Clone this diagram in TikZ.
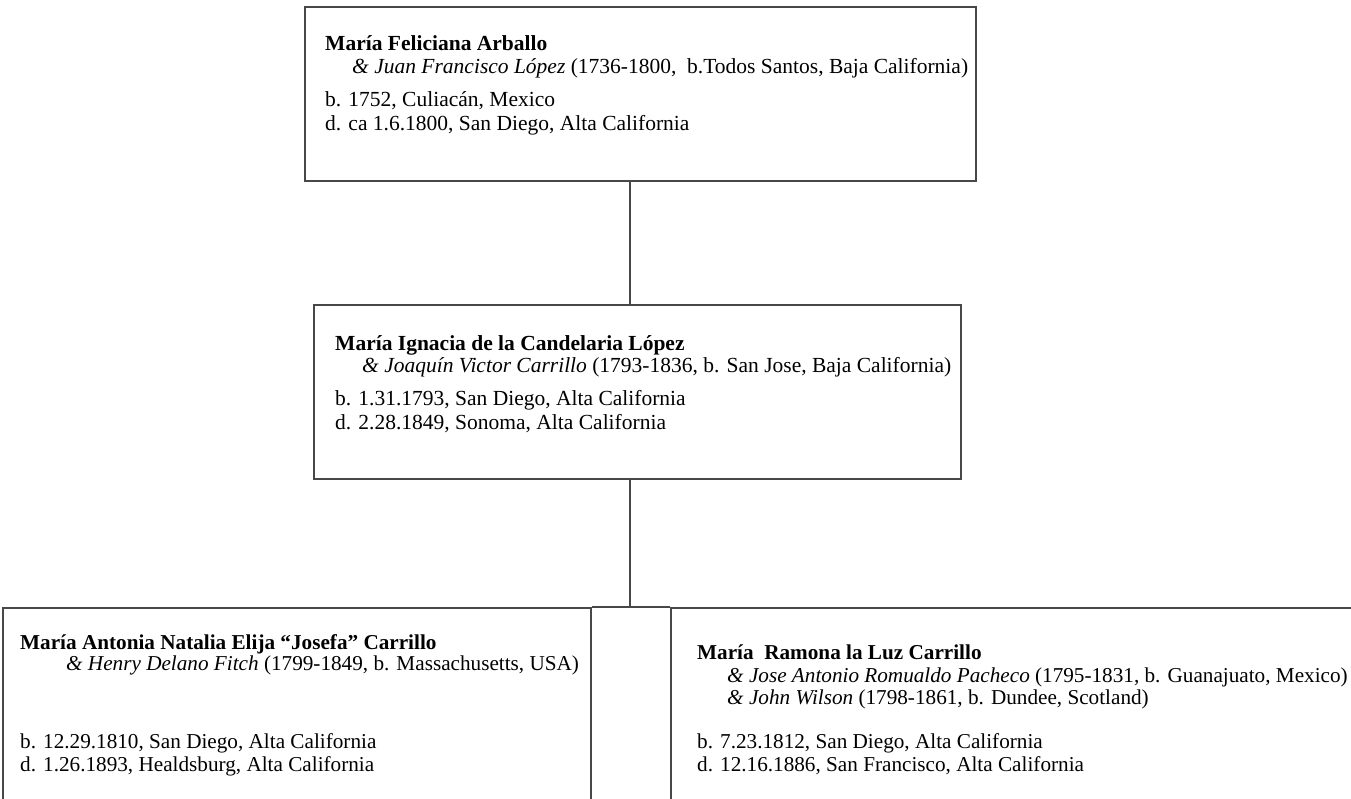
\documentclass[tikz,border=0pt]{standalone}
\usepackage{fontspec}
\setmainfont{Liberation Serif}
\definecolor{edge}{RGB}{72,72,72}
\begin{document}
\begin{tikzpicture}[x=1pt,y=-1pt,
  box/.style={draw=edge, line width=1.7pt, rectangle, inner sep=0pt, anchor=north west},
  conn/.style={draw=edge, line width=1.7pt},
  ln/.style={anchor=base west, inner sep=0pt, font=\fontsize{21.5}{24}\selectfont},
  lnb/.style={anchor=base west, inner sep=0pt, font=\fontsize{21.2}{23}\selectfont}]
\useasboundingbox (0,0) rectangle (1351,799);
\clip (0,0) rectangle (1351,799);
\fill[white] (0,0) rectangle (1351,799);
\coordinate (spine) at (630,0);
% boxes
\node[box, minimum width=671pt, minimum height=174pt] (top) at (304,6) {};
\node[box, minimum width=647pt, minimum height=174pt] (mid) at (313,304) {};
\node[box, minimum width=588pt, minimum height=300pt] (left) at (2,607) {};
\node[box, minimum width=800pt, minimum height=300pt] (right) at (670,607) {};
% connectors
\draw[conn] (top.south -| spine) -- (mid.north -| spine);
\draw[conn] (mid.south -| spine) -- (left.north -| spine);
\draw[conn] (left.north east) -- (right.north west);
% top box text
\node[ln] (t1) at (325,51) {\textbf{María Feliciana Arballo}};
\node[ln] (t2) at (352,74) {\textit{\& Juan Francisco López} (1736-1800,\ \ b.Todos Santos, Baja California)};
\node[ln] (t3) at (325,107) {b. 1752, Culiacán, Mexico};
\node[ln] (t4) at (325,131) {d. ca 1.6.1800, San Diego, Alta California};
% middle box text
\node[ln] (m1) at (335,350) {\textbf{María Ignacia de la Candelaria López}};
\node[ln] (m2) at (362,372) {\textit{\& Joaquín Victor Carrillo} (1793-1836, b. San Jose, Baja California)};
\node[ln] (m3) at (335,405) {b. 1.31.1793, San Diego, Alta California};
\node[ln] (m4) at (335,429) {d. 2.28.1849, Sonoma, Alta California};
% left box text
\node[lnb] (l1) at (20,649) {\textbf{María Antonia Natalia Elija “Josefa” Carrillo}};
\node[lnb] (l2) at (66,670) {\textit{\& Henry Delano Fitch} (1799-1849, b. Massachusetts, USA)};
\node[lnb] (l3) at (20,748) {b. 12.29.1810, San Diego, Alta California};
\node[lnb] (l4) at (20,771) {d. 1.26.1893, Healdsburg, Alta California};
% right box text
\node[lnb] (r1) at (697,659) {\textbf{María\ \ Ramona la Luz Carrillo}};
\node[lnb] (r2) at (727,682) {\textit{\& Jose Antonio Romualdo Pacheco} (1795-1831, b. Guanajuato, Mexico)};
\node[lnb] (r3) at (727,704) {\textit{\& John Wilson} (1798-1861, b. Dundee, Scotland)};
\node[lnb] (r4) at (697,748) {b. 7.23.1812, San Diego, Alta California};
\node[lnb] (r5) at (697,771) {d. 12.16.1886, San Francisco, Alta California};
\end{tikzpicture}
\end{document}
